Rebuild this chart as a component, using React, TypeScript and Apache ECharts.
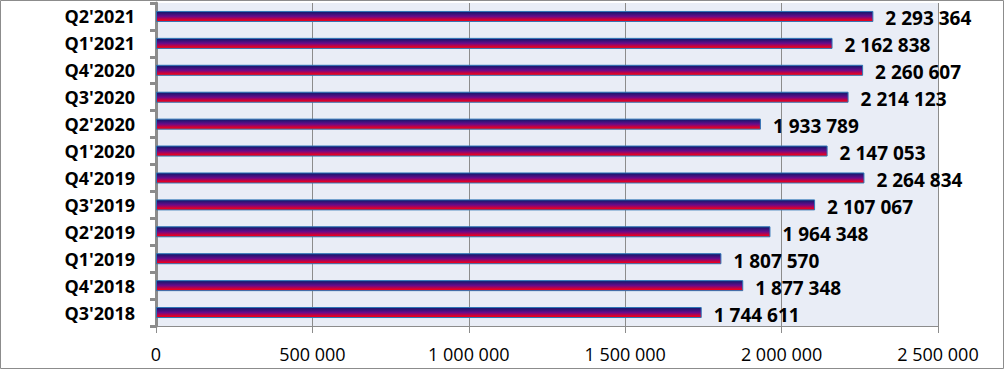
import React, { useEffect, useRef } from "react";
import * as echarts from "echarts";

const categories = [
  "Q3'2018", "Q4'2018", "Q1'2019", "Q2'2019", "Q3'2019", "Q4'2019",
  "Q1'2020", "Q2'2020", "Q3'2020", "Q4'2020", "Q1'2021", "Q2'2021",
];
const values = [
  1744611, 1877348, 1807570, 1964348, 2107067, 2264834,
  2147053, 1933789, 2214123, 2260607, 2162838, 2293364,
];
const xTicks = { min: 0, max: 2500000, interval: 500000 };

const fmt = (v: number) => String(Math.round(v)).replace(/\B(?=(\d{3})+(?!\d))/g, " ");

export default function App() {
  const ref = useRef<HTMLDivElement>(null);
  useEffect(() => {
    document.body.style.margin = "0";
    const chart = echarts.init(ref.current!, null, { renderer: "svg" });
    chart.setOption({
      animation: false,
      backgroundColor: "#ffffff",
      grid: { left: 156, right: 66, top: 3, bottom: 43, show: true, backgroundColor: "#E9EDF6", borderWidth: 0 },
      xAxis: {
        type: "value",
        min: xTicks.min,
        max: xTicks.max,
        interval: xTicks.interval,
        axisLine: { show: true, lineStyle: { color: "#8c8c8c", width: 1 } },
        axisTick: { show: true, length: 7, lineStyle: { color: "#8c8c8c" } },
        splitLine: { show: true, lineStyle: { color: "#8c8c8c", width: 1 } },
        axisLabel: {
          formatter: (v: number) => fmt(v),
          color: "#000",
          fontFamily: "Open Sans",
          fontSize: 18,
          margin: 19,
        },
      },
      yAxis: {
        type: "category",
        data: categories,
        axisLine: { show: true, lineStyle: { color: "#8c8c8c", width: 3 } },
        axisTick: { show: true, length: 6, lineStyle: { color: "#8c8c8c", width: 3 } },
        axisLabel: {
          color: "#000",
          fontFamily: "Open Sans",
          fontWeight: "bold",
          fontSize: 18,
          margin: 21,
        },
      },
      series: [
        {
          type: "bar",
          data: values,
          barWidth: 11,
          itemStyle: {
            color: new echarts.graphic.LinearGradient(0, 0, 0, 1, [
              { offset: 0, color: "#0a1a6a" },
              { offset: 0.5, color: "#6a0a8a" },
              { offset: 0.85, color: "#e0002a" },
              { offset: 1, color: "#ff0000" },
            ]),
            borderColor: "#2E75B6",
            borderWidth: 1,
          },
          label: {
            show: true,
            position: "right",
            distance: 12,
            offset: [0, 2],
            formatter: (p: any) => fmt(p.value),
            color: "#000",
            fontFamily: "Open Sans",
            fontWeight: "bold",
            fontSize: 19,
          },
        },
      ],
      graphic: [
        {
          type: "rect",
          shape: { x: 0.5, y: 0.5, width: 1003, height: 368 },
          style: { fill: "none", stroke: "#8c8c8c", lineWidth: 1 },
          silent: true,
        },
      ],
    });
    return () => chart.dispose();
  }, []);
  return <div ref={ref} style={{ width: 1004, height: 369 }} />;
}
